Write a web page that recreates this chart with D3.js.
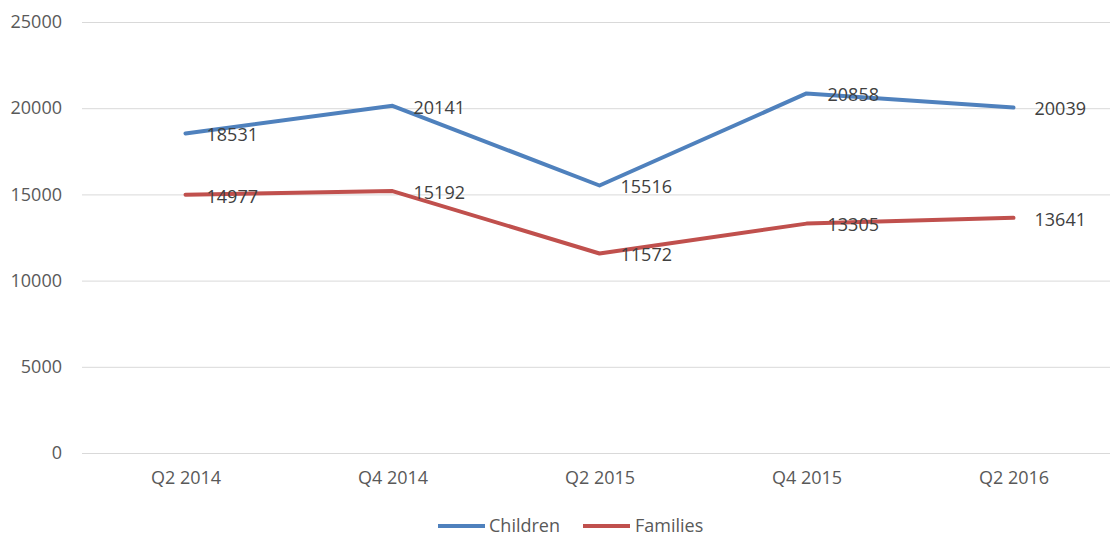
<!DOCTYPE html>
<html><head><meta charset="utf-8">
<script src="https://cdn.jsdelivr.net/npm/d3@7"></script>
<style>
html,body{margin:0;padding:0;background:#fff;overflow:hidden;}
svg{display:block;font-family:"Open Sans",sans-serif;}
</style></head>
<body>
<svg id="chart" width="1110" height="536"></svg>
<script>
const categories = ["Q2 2014","Q4 2014","Q2 2015","Q4 2015","Q2 2016"];
const children = [18531, 20141, 15516, 20858, 20039];
const families = [14977, 15192, 11572, 13305, 13641];
const yTicks = [0, 5000, 10000, 15000, 20000, 25000];
const seriesNames = ["Children", "Families"];
const seriesColors = ["#4F81BD", "#C0504D"];

const svg = d3.select("#chart");
const plotLeft = 82, plotRight = 1117, plotTop = 22, plotBottom = 453;
const x = d3.scalePoint().domain(categories).range([plotLeft, plotRight]).padding(0.5);
const y = d3.scaleLinear().domain([0, 25000]).range([plotBottom, plotTop]);

// gridlines + y labels
const yAxis = d3.axisLeft(y).tickValues(yTicks).tickSize(-(plotRight - plotLeft)).tickPadding(20).tickFormat(d3.format("d"));
const gy = svg.append("g").attr("transform", `translate(${plotLeft},0)`).call(yAxis);
gy.select(".domain").remove();
gy.selectAll(".tick line").attr("stroke", "#d9d9d9").attr("stroke-width", 1);
gy.selectAll(".tick text").attr("fill", "#595959").style("font-size", "18px").style("font-family", "Open Sans");

// x labels
const xAxis = d3.axisBottom(x).tickSize(0).tickPadding(18);
const gx = svg.append("g").attr("transform", `translate(0,${plotBottom})`).call(xAxis);
gx.select(".domain").remove();
gx.selectAll(".tick text").attr("fill", "#595959").style("font-size", "18px").style("font-family", "Open Sans");

const series = [children, families];
const line = d3.line().x((d, i) => x(categories[i])).y(d => y(d));
series.forEach((vals, si) => {
  svg.append("path").datum(vals).attr("d", line)
    .attr("fill", "none").attr("stroke", seriesColors[si]).attr("stroke-width", 4)
    .attr("stroke-linejoin", "round").attr("stroke-linecap", "round");
});
series.forEach((vals, si) => {
  svg.append("g").selectAll("text").data(vals).join("text")
    .attr("x", (d, i) => x(categories[i]) + 21)
    .attr("y", d => y(d) + 1.5)
    .attr("dy", "0.35em")
    .attr("fill", "#404040")
    .style("font-size", "18px")
    .text(d => d);
});

// legend
const legendItems = [{x: 438, tx: 489}, {x: 583, tx: 635}];
seriesNames.forEach((name, i) => {
  const g = svg.append("g");
  g.append("line").attr("x1", legendItems[i].x).attr("x2", legendItems[i].x + 47)
    .attr("y1", 526).attr("y2", 526).attr("stroke", seriesColors[i]).attr("stroke-width", 4);
  g.append("text").attr("x", legendItems[i].tx).attr("y", 526).attr("dy", "0.35em")
    .attr("fill", "#595959").style("font-size", "18px").text(name);
});
</script>
</body></html>
